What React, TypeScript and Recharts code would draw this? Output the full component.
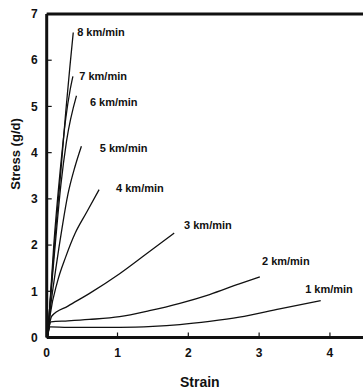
import React from 'react';
import {
  LineChart,
  Line,
  XAxis,
  YAxis,
  ReferenceLine,
  ReferenceDot,
  Label,
} from 'recharts';

// strain / stress points
const s1 = [[0.01, 0], [0.05, 0.23], [0.3, 0.22], [0.7, 0.22], [1.03, 0.22], [1.5, 0.24], [1.88, 0.28], [2.3, 0.35], [2.72, 0.44], [3.29, 0.62], [3.87, 0.8]];
const s2 = [[0.01, 0], [0.06, 0.34], [0.3, 0.36], [0.6, 0.39], [1.03, 0.45], [1.45, 0.58], [1.88, 0.74], [2.3, 0.93], [2.72, 1.16], [3.01, 1.31]];
const s3 = [[0.01, 0], [0.07, 0.46], [0.3, 0.68], [0.6, 0.95], [1.03, 1.38], [1.4, 1.8], [1.8, 2.26]];
const s4 = [[0.01, 0], [0.05, 0.5], [0.15, 1.2], [0.27, 1.75], [0.4, 2.25], [0.56, 2.7], [0.74, 3.2]];
const s5 = [[0.01, 0], [0.05, 0.6], [0.13, 1.5], [0.22, 2.4], [0.3, 3.1], [0.4, 3.7], [0.49, 4.14]];
const s6 = [[0.01, 0], [0.04, 0.6], [0.12, 2.0], [0.2, 3.3], [0.28, 4.25], [0.42, 5.23]];
const s7 = [[0.01, 0], [0.04, 0.6], [0.1, 2.0], [0.19, 3.6], [0.27, 4.75], [0.33, 5.35], [0.37, 5.65]];
const s8 = [[0.01, 0], [0.04, 0.6], [0.12, 2.2], [0.2, 3.6], [0.27, 4.9], [0.33, 5.9], [0.375, 6.6]];

const curves = [s1, s2, s3, s4, s5, s6, s7, s8];
const speeds = ['1 km/min', '2 km/min', '3 km/min', '4 km/min', '5 km/min', '6 km/min', '7 km/min', '8 km/min'];
// where each speed label sits (strain, stress)
const labelStrain = [3.65, 3.04, 1.94, 0.98, 0.75, 0.61, 0.46, 0.43];
const labelStress = [1.06, 1.65, 2.43, 3.23, 4.1, 5.09, 5.66, 6.61];

const xTicks = [0, 1, 2, 3, 4];
const yTicks = [0, 1, 2, 3, 4, 5, 6, 7];

const font = '"Liberation Sans", Arial, sans-serif';
const ink = '#111';

const toPoints = (pts: number[][]) => pts.map(([x, y]) => ({ x, y }));

const SpeedLabel = ({ viewBox, value }: any) => {
  if (!viewBox) return null;
  return (
    <text
      x={viewBox.x}
      y={viewBox.y}
      fontFamily={font}
      fontSize={11}
      fontWeight="bold"
      fill={ink}
      dominantBaseline="central"
    >
      {value}
    </text>
  );
};

const StressTitle = ({ viewBox }: any) => {
  if (!viewBox) return null;
  const cx = 15;
  const cy = 154;
  return (
    <text
      x={cx}
      y={cy}
      transform={`rotate(-90 ${cx} ${cy})`}
      textAnchor="middle"
      dominantBaseline="central"
      fontFamily={font}
      fontSize={13}
      fontWeight="bold"
      fill={ink}
    >
      Stress (g/d)
    </text>
  );
};

export default function App() {
  return (
    <div style={{ position: 'absolute', left: 0, top: 0, width: 363, height: 392, background: '#fff' }}>
      <LineChart width={363} height={392} margin={{ top: 14, right: 0, left: 0, bottom: 0 }}>
        <XAxis
          type="number"
          dataKey="x"
          domain={[0, 4.467]}
          ticks={xTicks}
          allowDataOverflow
          height={54.5}
          axisLine={{ stroke: ink, strokeWidth: 3 }}
          tickLine={{ stroke: ink, strokeWidth: 1.2 }}
          tickSize={-5}
          tickMargin={16}
          tick={{ fontFamily: font, fontSize: 12, fontWeight: 'bold', fill: ink }}
        >
          <Label
            value="Strain"
            position="insideBottom"
            offset={5}
            dx={-5}
            style={{ fontFamily: font, fontSize: 14, fontWeight: 'bold', fill: ink }}
          />
        </XAxis>
        <YAxis
          type="number"
          domain={[0, 7]}
          ticks={yTicks}
          width={46.7}
          axisLine={{ stroke: ink, strokeWidth: 3 }}
          tickLine={{ stroke: ink, strokeWidth: 1.2 }}
          tickSize={-5}
          tickMargin={14}
          tick={{ fontFamily: font, fontSize: 12, fontWeight: 'bold', fill: ink }}
        >
          <Label content={<StressTitle />} />
        </YAxis>
        <ReferenceLine y={7} stroke={ink} strokeWidth={3} />
        {curves.map((c, i) => (
          <Line
            key={speeds[i]}
            data={toPoints(c)}
            dataKey="y"
            type="monotone"
            stroke={ink}
            strokeWidth={1.3}
            dot={false}
            activeDot={false}
            isAnimationActive={false}
          />
        ))}
        {speeds.map((s, i) => (
          <ReferenceDot
            key={s}
            x={labelStrain[i]}
            y={labelStress[i]}
            r={0}
            fill="none"
            stroke="none"
            label={<SpeedLabel value={s} />}
          />
        ))}
      </LineChart>
    </div>
  );
}
